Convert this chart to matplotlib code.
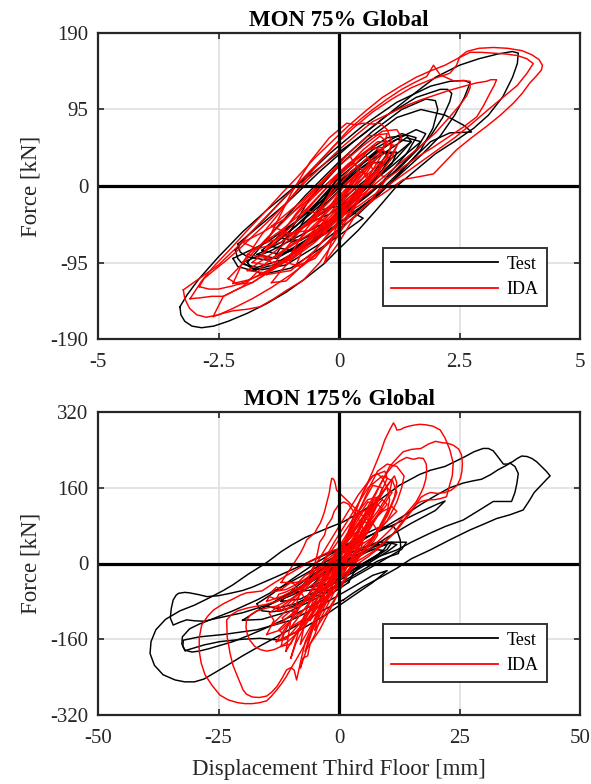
import matplotlib
matplotlib.use("Agg")
import matplotlib.pyplot as plt
from matplotlib.lines import Line2D

plt.rcParams['font.family'] = ['Liberation Serif', 'DejaVu Serif']

# ---------------- DATA: top panel (MON 75%), displacement [mm], force [kN]
top_title = "MON 75% Global"
top_xticks = [-5, -2.5, 0, 2.5, 5]
top_xticklabels = ["-5", "-2.5", "0", "2.5", "5"]
top_yticks = [-190, -95, 0, 95, 190]
top_yticklabels = ["-190", "-95", "0", "95", "190"]

top_test_1 = [(-3.3,-150),(-3.28,-160),(-3.2,-168),(-3.05,-174),(-2.85,-176),(-2.6,-174),(-2.3,-168),(-1.9,-158),
              (-1.5,-146),(-1.1,-132),(-0.7,-115),(-0.3,-96),(0.0,-78),(0.4,-55),(0.8,-28),(1.2,0),(1.6,20),(2.0,40),
              (2.44,57),(2.8,72),(3.1,88),(3.4,111),(3.6,135),(3.7,152),(3.72,165),(3.6,167),(3.3,164),(2.9,158),
              (2.5,150),(2.0,135),(1.5,112),(1.0,88),(0.5,64),(0.0,42),(-0.5,18),(-1.0,-5),(-1.5,-30),(-2.0,-57),
              (-2.5,-88),(-2.9,-115),(-3.15,-135),(-3.3,-150)]
top_test_2 = [(-2.15,-80),(-2.1,-90),(-2.0,-97),(-1.7,-101),(-1.2,-92),(-0.5,-68),(0.3,-35),(1.0,0),(1.7,38),(2.1,62),
              (2.4,88),(2.6,110),(2.72,128),(2.6,131),(2.3,130),(1.9,124),(1.2,104),(0.5,75),(-0.2,40),(-0.9,0),
              (-1.5,-38),(-1.9,-62),(-2.15,-80)]
top_test_3 = [(-2.1,-72),(-2.05,-82),(-1.9,-88),(-1.5,-92),(-0.9,-78),(-0.2,-48),(0.6,-12),(1.3,25),(1.9,62),
              (2.15,85),(2.3,105),(2.34,115),(2.25,120),(2.1,120),(1.6,110),(1.0,88),(0.3,55),(-0.4,18),(-1.1,-22),
              (-1.7,-52),(-2.1,-72)]
top_test_4 = [(-1.9,-95),(-1.8,-102),(-1.6,-104),(-1.1,-98),(-0.4,-72),(0.4,-35),(1.1,5),(1.7,45),(1.95,72),(2.05,95),
              (2.0,106),(1.8,108),(1.3,95),(0.7,68),(0.0,30),(-0.7,-12),(-1.3,-52),(-1.9,-95)]
top_test_5 = [(-1.3,-85),(-0.8,-78),(-0.1,-50),(0.7,-15),(1.3,20),(1.9,55),(2.3,66),(2.75,67),(2.6,75),(2.2,88),
              (1.7,95),(1.2,85),(0.6,58),(0.0,25),(-0.6,-15),(-1.3,-85)]
top_test_6 = [(-1.0,-70),(-0.5,-60),(0.2,-30),(0.9,5),(1.4,40),(1.6,60),(1.3,65),(0.7,45),(0.0,10),(-0.6,-30),(-1.0,-70)]
top_test_7 = [(-0.6,-45),(-0.2,-35),(0.4,-10),(0.9,20),(1.1,40),(0.8,42),(0.3,20),(-0.2,-5),(-0.6,-45)]
top_test_8 = [(-1.6,-80),(-1.2,-85),(-0.6,-65),(0.1,-30),(0.7,5),(1.2,35),(1.5,55),(1.2,58),(0.6,35),(-0.1,0),
              (-0.8,-40),(-1.6,-80)]
top_test_9 = [(-2.0,-95),(-1.6,-110),(-1.0,-102),(-0.2,-70),(0.5,-40),(0.2,-30),(-0.6,-55),(-1.4,-80),(-2.0,-95)]
top_test_10 = [(-1.4,-75),(-1.0,-80),(-0.4,-55),(0.2,-20),(0.7,15),(1.0,40),(0.8,45),(0.3,20),(-0.3,-15),
               (-0.9,-50),(-1.4,-75)]
top_test_11 = [(-1.7,-85),(-1.3,-90),(-0.7,-70),(0.0,-35),(0.6,0),(1.3,35),(1.7,55),(1.4,60),(0.8,35),(0.1,0),
               (-0.6,-40),(-1.2,-70),(-1.7,-85)]
top_test_12 = [(-2.2,-90),(-2.1,-100),(-1.8,-105),(-1.3,-97),(-0.7,-75),(-0.1,-45),(0.5,-15),(1.1,15),(1.6,45),
               (1.8,65),(1.6,70),(1.1,55),(0.5,28),(-0.1,-5),(-0.8,-40),(-1.5,-70),(-2.2,-90)]
top_test_13 = [(-1.2,-65),(-0.8,-68),(-0.3,-48),(0.2,-22),(0.7,5),(1.1,28),(1.2,42),(0.9,42),(0.4,20),(-0.1,-8),
               (-0.6,-35),(-1.2,-65)]
top_test_14 = [(-0.4,-30),(0.0,-25),(0.4,-5),(0.8,18),(0.9,30),(0.6,28),(0.2,10),(-0.2,-12),(-0.4,-30)]
top_test_15 = [(-0.5,-40),(0.0,-20),(0.6,10),(1.1,35),(1.5,55),(1.4,63),(1.0,60),(0.5,40),(0.0,15),(-0.5,-40)]

top_ida_1 = [(-3.23,-129),(-3.2,-140),(-3.1,-152),(-2.95,-160),(-2.75,-163),(-2.5,-160),(-2.2,-152),(-1.8,-140),
             (-1.4,-126),(-1.0,-110),(-0.6,-92),(-0.2,-70),(0.2,-44),(0.6,-22),(1.0,-6),(1.33,8),(1.7,12),(1.96,15),
             (2.2,30),(2.44,45),(2.75,60),(3.06,74),(3.35,88),(3.62,103),(3.8,115),(3.96,128),(4.1,137),(4.2,144),
             (4.22,150),(4.15,157),(4.0,163),(3.8,168),(3.5,171),(3.2,172),(2.9,171),(2.65,167),(2.5,160),
             (2.44,150),(2.3,140),(1.9,132),(1.5,122),(1.1,108),(0.7,92),(0.3,72),(-0.1,50),(-0.5,25),(-0.9,0),
             (-1.3,-25),(-1.7,-50),(-2.1,-75),(-2.5,-98),(-2.9,-115),(-3.23,-129)]
top_ida_2 = [(-3.09,-140),(-2.9,-139),(-2.64,-137),(-2.4,-137),(-2.1,-128),(-1.8,-120),(-1.4,-105),(-1.0,-90),
             (-0.6,-72),(-0.3,-55),(0.0,-40),(0.4,-25),(0.7,-12),(1.0,0),(1.35,15),(1.7,30),(2.05,45),(2.4,60),
             (2.75,77),(3.1,95),(3.4,110),(3.7,125),(3.9,140),(4.03,152),(3.9,158),(3.7,162),(3.45,164),(3.2,165),
             (2.95,166),(2.72,166),(2.45,158),(2.2,150),(1.9,143),(1.6,135),(1.25,123),(0.9,110),(0.55,93),(0.2,75),
             (-0.15,55),(-0.5,35),(-0.85,12),(-1.2,-10),(-1.55,-33),(-1.9,-55),(-2.25,-78),(-2.6,-100),(-2.85,-118),
             (-3.09,-140)]
top_ida_3 = [(-2.2,-121),(-1.9,-117),(-1.6,-110),(-1.25,-96),(-0.9,-80),(-0.55,-62),(-0.2,-45),(0.15,-28),(0.5,-10),
             (0.8,5),(1.1,20),(1.4,35),(1.7,50),(2.0,66),(2.3,86),(2.5,100),(2.65,112),(2.72,122),(2.72,130),
             (2.55,131),(2.4,130),(2.1,138),(1.96,150),(1.82,136),(1.55,128),(1.3,120),(1.0,108),(0.7,95),(0.45,83),
             (0.2,70),(-0.1,50),(-0.4,30),(-0.7,8),(-1.0,-15),(-1.3,-38),(-1.6,-60),(-1.8,-78),(-2.0,-95),(-2.2,-121)]
top_ida_4 = [(-2.9,-125),(-2.7,-128),(-2.5,-128),(-2.2,-124),(-1.9,-118),(-1.55,-107),(-1.2,-95),(-0.85,-79),
             (-0.5,-62),(-0.15,-45),(0.2,-28),(0.55,-11),(0.9,5),(1.25,20),(1.6,35),(1.95,48),(2.3,62),(2.6,74),
             (2.86,86),(3.0,100),(3.13,115),(3.22,125),(3.27,132),(3.15,132),(3.06,130),(2.85,128),(2.6,124),
             (2.3,119),(2.0,113),(1.7,107),(1.4,100),(1.05,90),(0.7,80),(0.35,63),(0.0,45),(-0.35,25),(-0.7,5),
             (-1.05,-18),(-1.4,-40),(-1.75,-60),(-2.1,-80),(-2.35,-93),(-2.6,-105),(-2.8,-115),(-2.9,-125)]
top_ida_5 = [(-1.5,-70),(-1.2,-64),(-1.0,-60),(-0.7,-48),(-0.4,-35),(-0.1,-20),(0.2,-5),(0.5,10),(0.8,25),(1.0,38),
             (1.1,50),(1.05,62),(1.0,70),(0.85,78),(0.7,77),(0.5,78),(0.35,76),(0.16,78),(0.0,70),(-0.2,60),(-0.4,45),
             (-0.6,30),(-0.8,10),(-1.0,-10),(-1.25,-40),(-1.5,-70)]
top_ida_6 = [(-2.61,-162),(-2.4,-158),(-2.2,-155),(-1.9,-153),(-1.64,-150),(-1.35,-140),(-1.1,-130),(-0.74,-117),
             (-0.4,-95),(-0.12,-71),(0.1,-50),(0.0,-40),(-0.25,-47),(-0.5,-55),(-1.0,-75),(-1.5,-95),(-2.0,-125),
             (-2.4,-137),(-2.61,-162)]
top_ida_7 = [(-1.8,-95),(-1.3,-100),(-0.7,-75),(0.0,-35),(0.6,5),(1.0,35),(1.1,55),(0.8,55),(0.3,30),(-0.3,-5),
             (-0.9,-45),(-1.5,-80),(-1.8,-95)]
top_ida_8 = [(-1.5,-110),(-1.0,-105),(-0.5,-80),(0.0,-45),(0.4,-10),(0.7,20),(0.6,35),(0.2,15),(-0.3,-20),
             (-0.8,-55),(-1.2,-85),(-1.5,-110)]
top_ida_9 = [(-1.2,-60),(-0.6,-55),(0.0,-25),(0.5,10),(0.9,45),(1.0,65),(0.6,62),(0.1,35),(-0.4,0),(-0.9,-35),(-1.2,-60)]
top_ida_10 = [(-0.9,-100),(-0.5,-90),(-0.1,-60),(0.3,-25),(0.6,5),(0.5,20),(0.1,0),(-0.3,-35),(-0.7,-70),(-0.9,-100)]
top_ida_11 = [(-1.9,-85),(-1.4,-90),(-0.8,-65),(-0.2,-30),(0.3,0),(0.7,30),(0.5,40),(0.0,15),(-0.6,-25),(-1.2,-55),
              (-1.9,-85)]
top_ida_12 = [(-0.5,-40),(-0.2,-45),(0.2,-20),(0.6,10),(0.9,40),(0.7,50),(0.3,25),(-0.1,0),(-0.5,-40)]
top_ida_13 = [(-1.4,-50),(-1.0,-60),(-0.4,-40),(0.1,-10),(0.4,20),(0.2,40),(-0.2,15),(-0.7,-15),(-1.4,-50)]
top_ida_14 = [(-0.3,-95),(0.0,-70),(0.3,-40),(0.7,-15),(1.0,10),(0.8,15),(0.4,-10),(0.0,-40),(-0.3,-95)]
top_ida_15 = [(-2.3,-115),(-2.1,-122),(-1.8,-120),(-1.3,-100),(-0.8,-75),(-0.3,-45),(0.2,-15),(0.7,15),(1.1,40),
              (1.3,60),(1.2,70),(0.9,68),(0.5,50),(0.0,25),(-0.5,-5),(-1.0,-35),(-1.5,-65),(-1.9,-90),(-2.3,-115)]
top_ida_16 = [(-1.6,-85),(-1.4,-95),(-1.0,-92),(-0.5,-70),(0.0,-40),(0.4,-12),(0.8,15),(1.0,35),(0.9,48),(0.6,45),
              (0.2,28),(-0.3,0),(-0.8,-30),(-1.2,-58),(-1.6,-85)]
top_ida_17 = [(-1.1,-95),(-0.8,-100),(-0.4,-80),(0.0,-55),(0.3,-30),(0.5,-5),(0.6,15),(0.4,18),(0.1,0),(-0.3,-25),
              (-0.7,-55),(-1.1,-95)]
top_ida_18 = [(-0.7,-30),(-0.4,-35),(0.0,-15),(0.4,10),(0.8,35),(1.0,55),(0.85,62),(0.5,45),(0.1,20),(-0.3,-5),(-0.7,-30)]
top_ida_19 = [(-2.0,-70),(-1.7,-78),(-1.2,-70),(-0.7,-50),(-0.2,-25),(0.2,0),(0.5,20),(0.3,28),(-0.1,10),(-0.6,-15),
              (-1.1,-40),(-1.6,-58),(-2.0,-70)]
top_ida_20 = [(-1.4,-120),(-1.1,-118),(-0.7,-95),(-0.3,-65),(0.1,-35),(0.4,-10),(0.3,0),(0.0,-20),(-0.4,-50),
              (-0.8,-80),(-1.2,-105),(-1.4,-120)]
top_ida_21 = [(-0.3,-60),(0.0,-50),(0.4,-20),(0.8,10),(1.1,35),(1.2,50),(1.0,52),(0.7,35),(0.3,5),(0.0,-25),(-0.3,-60)]
top_ida_22 = [(-1.9,-105),(-1.5,-108),(-1.0,-88),(-0.5,-60),(0.0,-30),(0.5,0),(0.9,25),(0.7,30),(0.2,5),(-0.3,-25),
              (-0.8,-55),(-1.3,-80),(-1.9,-105)]

# ---------------- DATA: bottom panel (MON 175%)
bot_title = "MON 175% Global"
bot_xticks = [-50, -25, 0, 25, 50]
bot_xticklabels = ["-50", "-25", "0", "25", "50"]
bot_yticks = [-320, -160, 0, 160, 320]
bot_yticklabels = ["-320", "-160", "0", "160", "320"]

bot_test_1 = [(0.9,-77),(-3,-97),(-7,-120),(-12,-150),(-16,-172),(-20,-195),(-23,-214),(-26,-232),(-28,-244),
              (-30,-250),(-32,-250),(-34,-246),(-36.5,-235),(-38.3,-215),(-39.2,-190),(-39,-165),(-38,-140),
              (-36,-118),(-33,-100),(-30,-88),(-26.8,-72),(-24,-57),(-22,-45),(-18.9,-23),(-15,2),(-12,25),(-10,38),
              (-7,55),(-3,72),(0.9,88),(5,112),(8.8,137),(12.5,165),(16.7,188),(19,197),(22,205),(24,215),(26,225),
              (28,236),(29.9,243),(31,243),(32,238),(33,225),(34.1,210),(35,210),(36,215),(37,222),(37.9,227),(39,226),
              (40,222),(41,215),(42,205),(43,195),(43.8,185),(43.1,178),(42,166),(40.5,150),(39.5,133),(38.2,113),
              (35.5,103),(32.7,95),(30,83),(27.2,71),(23,50),(18.9,28.5),(15,10),(12,-10),(8.5,-30),(5,-49),(3,-62),
              (0.9,-77)]
bot_test_2 = [(2,-40),(-1,-60),(-4,-80),(-7,-96),(-10,-112),(-13,-126),(-16,-140),(-19,-153),(-22,-165),(-25,-174),
              (-27,-180),(-29,-185),(-30.5,-187),(-32,-183),(-32.6,-170),(-32.5,-155),(-31,-138),(-29,-128),
              (-27,-120),(-22,-100),(-17,-77),(-12,-50),(-7,-22),(-2,8),(3,38),(8,68),(13,98),(17,125),(20.3,145),
              (23,160),(25.8,170),(28,175),(29.6,178),(31.5,188),(33,198),(34.5,206),(35.5,212),(36.5,205),
              (37.2,190),(36.9,169),(36.5,150),(35.8,131),(34,131),(32,131),(29,112),(25.8,92),(22,78),(18.9,64),
              (15,45),(12,28.5),(8,14),(5,0.4),(3,-20),(2,-40)]
bot_test_3 = [(0,-20),(-5,-45),(-10,-68),(-15,-88),(-20,-104),(-25,-115),(-28,-122),(-30,-121),(-31.6,-119),
              (-33,-124),(-34.4,-130),(-35,-115),(-34.8,-95),(-34.4,-77),(-33.8,-67),(-33.3,-63),(-32,-61),(-31,-62),
              (-29,-66),(-27.4,-70),(-25,-68),(-22.6,-63),(-20,-57),(-18,-50),(-13,-28),(-8,-5),(-3,18),(2,40),
              (7,62),(12,85),(16,105),(20.3,125),(22,132),(20,112),(15,85),(10,55),(5,22),(0,-20)]
bot_test_4 = [(-17,-85),(-16.5,-95),(-16,-100),(-14,-102),(-12,-100),(-7,-80),(-2,-55),(3,-25),(8,5),(10.5,15),
              (12.3,21),(12.8,35),(12.7,50),(12.2,65),(11.3,78),(10,78),(8,75),(4,55),(0,30),(-5,0),(-10,-35),
              (-14,-65),(-17,-85)]
bot_test_5 = [(-12,-80),(-8,-75),(-3,-50),(2,-20),(7,10),(10,30),(11,45),(8,45),(4,30),(0,10),(-5,-20),(-9,-50),(-12,-80)]
bot_test_6 = [(-9,-60),(-5,-55),(0,-30),(5,0),(9,25),(10,40),(7,40),(3,20),(-2,-5),(-6,-30),(-9,-60)]
bot_test_7 = [(-20,-120),(-16,-118),(-10,-100),(-4,-70),(2,-35),(8,0),(13,30),(14,45),(11,45),(6,25),(0,-5),(-6,-40),
              (-12,-75),(-17,-100),(-20,-120)]
bot_test_8 = [(-31.9,-184),(-28,-172),(-24.7,-165),(-20,-160),(-16.4,-158),(-12.2,-162),(-8,-140),(-3,-110),
              (2,-75),(7,-40),(10,-15),(7,-25),(2,-55),(-4,-90),(-10,-120),(-17,-140),(-24,-150),(-29,-155),
              (-32.3,-162),(-32.4,-175),(-31.9,-184)]
bot_test_9 = [(-15,-90),(-13,-95),(-9,-85),(-4,-60),(1,-30),(6,0),(10,25),(12,40),(10,45),(6,30),(1,5),(-4,-25),
              (-9,-55),(-13,-78),(-15,-90)]
bot_test_10 = [(-6,-50),(-3,-45),(1,-25),(5,0),(8,18),(9,28),(7,30),(3,15),(-1,-10),(-4,-30),(-6,-50)]

bot_ida_1 = [(3,40),(1.5,5),(0,-30),(-1.5,-60),(-3,-90),(-4.5,-120),(-6,-150),(-7.5,-178),(-9,-205),(-10,-222),
             (-11,-240),(-12,-255),(-13,-268),(-14,-280),(-15,-290),(-16.5,-294),(-18,-296),(-19.5,-296),(-21,-294),
             (-23,-288),(-24.7,-278),(-26.3,-258),(-27.8,-235),(-28.6,-210),(-29,-185),(-29,-158),(-28.5,-130),
             (-27.3,-112),(-26,-98),(-24,-85),(-22,-75),(-20.5,-67),(-19.2,-62),(-17.5,-60),(-16,-58),(-14.8,-50),
             (-13.6,-42),(-12,-32),(-10,-20),(-8,-8),(-6,5),(-4,15),(-2,25),(0.5,33),(3,40)]
bot_ida_2 = [(2,20),(0,-20),(-2,-60),(-3.5,-90),(-5,-120),(-6,-142),(-7,-165),(-7.8,-200),(-8.8,-246),(-9.3,-225),
             (-10,-220),(-10.9,-225),(-11.8,-242),(-12.9,-260),(-14,-272),(-15,-280),(-16.5,-283),(-18,-282),
             (-19.2,-276),(-19.9,-267),(-21,-240),(-22,-215),(-22.6,-190),(-23.2,-155),(-23.3,-119),(-22.3,-108),
             (-21,-100),(-19,-94),(-17,-90),(-15,-86),(-13,-80),(-11,-70),(-9,-60),(-7,-45),(-5,-30),(-3,-15),
             (-1,0),(0.5,10),(2,20)]
bot_ida_3 = [(0,-10),(-1.5,-35),(-3,-60),(-4.5,-85),(-6,-110),(-7.5,-130),(-9,-150),(-10.5,-164),(-12,-175),
             (-13.5,-182),(-15,-185),(-16.3,-182),(-17.5,-175),(-18.5,-162),(-19,-150),(-19.3,-135),(-19.2,-120),
             (-18.3,-108),(-17,-100),(-15,-94),(-13,-90),(-10,-75),(-7,-55),(-4,-35),(0,-10)]
bot_ida_4 = [(-1,-20),(0,10),(1,40),(2,70),(3,100),(4,125),(5,150),(6,172),(7,195),(8,220),(8.8,240),(9.5,261),
             (10.5,282),(11.3,297),(11.7,290),(12,282),(12.8,283),(13.5,287),(14.5,290),(15.4,292),(16.7,294),
             (18,293),(19.5,290),(21,282),(22,265),(23,240),(23.7,212),(23.5,185),(22.8,160),(22.3,141),(21,137),
             (20,135),(18.2,134),(17,131),(16,125),(15,112),(14,100),(12.5,80),(11,60),(9,42),(7,25),(5,12),(3,0),
             (1,-10),(-1,-20)]
bot_ida_5 = [(0,-30),(1.5,5),(3,40),(4.5,75),(6,110),(7.2,138),(8.5,165),(9.5,185),(10.5,205),(12,222),(13.3,236),
             (15,241),(17,243),(18.5,252),(20,258),(21.5,255),(22.5,254),(23.7,250),(24.8,242),(25.4,230),(25.6,212),
             (25.5,195),(25.2,180),(24.5,165),(23.3,155),(22,150),(20.5,148),(19,150),(18,146),(17,140),(16,125),
             (15,110),(13.5,90),(12,70),(10,50),(8,30),(6,14),(4,0),(2,-15),(0,-30)]
bot_ida_6 = [(0,-10),(1.5,20),(3,50),(4.5,85),(6,120),(7.5,148),(9,175),(10,192),(11,205),(12.5,216),(14,224),
             (15.5,220),(16.5,223),(17.5,222),(18.1,210),(18.2,195),(18,178),(17.5,160),(16.8,145),(16,130),(14.5,112),
             (13,95),(11,75),(9,55),(7,37),(5,20),(2.5,5),(0,-10)]
bot_ida_7 = [(-12,-40),(-11,-25),(-10,-10),(-9,6),(-8,22),(-7.3,36),(-6.7,50),(-5.8,58),(-5,65),(-4.5,75),(-3.9,85),
             (-3.4,98),(-3,110),(-2.5,130),(-2,150),(-1.8,165),(-1.5,180),(-1.1,178),(-0.8,170),(-0.6,160),(-0.5,155),
             (0.2,148),(1,140),(2,130),(3,120),(4,110),(5,100),(6,92),(7,85),(7.8,72),(8,60),(7.2,47),(6,35),(4.5,22),
             (3,10),(1,-3),(-1,-15),(-3,-23),(-5,-30),(-7,-36),(-9,-40),(-12,-40)]
bot_ida_8 = [(-12,-160),(-10,-120),(-6,-60),(-2,0),(2,60),(6,110),(9,150),(11,178),(12,150),(10,100),(7,50),(3,0),
             (-1,-50),(-5,-100),(-9,-145),(-12,-160)]
bot_ida_9 = [(-13,-100),(-9,-92),(-6,-70),(-2,-30),(2,20),(5,70),(8,110),(10.5,150),(11,175),(9,185),(6,160),
             (3,110),(-1,45),(-4,-10),(-8,-60),(-13,-100)]
bot_ida_10 = [(-7,-185),(-4,-140),(-1,-80),(2,-15),(5,55),(7.5,120),(9,160),(7,165),(4,110),(1,40),(-2,-40),
              (-5,-115),(-7,-185)]
bot_ida_11 = [(-10,-135),(-7,-115),(-4,-75),(0,-20),(3,30),(6,80),(8,125),(6,130),(3,85),(0,35),(-3,-25),(-6,-80),
              (-10,-135)]
bot_ida_12 = [(-13,-165),(-11,-160),(-8,-125),(-5,-80),(-1,-25),(3,35),(6,90),(7,120),(5,110),(2,60),(-2,0),
              (-6,-60),(-10,-120),(-13,-165)]
bot_ida_13 = [(0,20),(3,80),(5,130),(6.5,165),(8,195),(10,210),(12,205),(13.5,185),(13,160),(12,130),(10,90),(7,55),
              (3,30),(0,20)]
bot_ida_14 = [(-15,-150),(-13.5,-120),(-14.5,-105),(-12.5,-90),(-12,-100),(-10,-80),(-8,-60),(-7,-75),(-5,-50),
              (-3,-30),(-4,-55),(-7,-95),(-10,-120),(-12,-140),(-15,-150)]
bot_ida_15 = [(-11,-185),(-9,-150),(-6,-100),(-3,-50),(0,0),(3,50),(6,100),(8.5,145),(10,180),(9.5,195),(7,185),
              (4,145),(1,95),(-2,45),(-5,-5),(-8,-60),(-10,-120),(-11,-185)]
bot_ida_16 = [(-8,-170),(-6,-135),(-3,-85),(0,-35),(3,15),(6,70),(9,120),(11,150),(10,160),(7,130),(4,85),(1,35),
              (-2,-15),(-5,-70),(-7,-120),(-8,-170)]
bot_ida_17 = [(-6,-120),(-4,-95),(-1,-50),(2,0),(5,50),(8,100),(10,125),(9,135),(6,100),(3,55),(0,10),(-3,-40),
              (-5,-85),(-6,-120)]
bot_ida_18 = [(-14,-130),(-12,-125),(-9,-100),(-6,-70),(-3,-35),(0,0),(3,35),(5,60),(4,70),(1,40),(-2,5),(-5,-30),
              (-8,-65),(-11,-100),(-14,-130)]
bot_ida_19 = [(-4,-60),(-2,-40),(1,0),(4,45),(7,90),(9,115),(8,125),(5,95),(2,50),(-1,5),(-3,-30),(-4,-60)]
bot_ida_20 = [(-10,-200),(-9,-170),(-7,-130),(-4,-80),(-1,-30),(2,20),(4,60),(3,65),(0,25),(-3,-25),(-6,-80),
              (-8,-130),(-10,-200)]
bot_ida_21 = [(-12,-175),(-11.5,-150),(-12.5,-140),(-11,-125),(-11.8,-115),(-10,-100),(-9,-105),(-8,-85),(-6,-70),
              (-6.5,-90),(-5,-100),(-7,-130),(-9,-150),(-10,-170),(-12,-175)]
bot_ida_22 = [(2,-5),(4,40),(6,85),(8,130),(10,165),(11.5,185),(12,170),(11.5,140),(10,105),(8,70),(6,40),(4,15),(2,-5)]
bot_ida_23 = [(-5,-140),(-3,-110),(0,-60),(2,-20),(4,20),(5,45),(4,50),(2,20),(0,-15),(-2,-55),(-4,-100),(-5,-140)]
bot_ida_24 = [(-14,-60),(-13,-50),(-12,-55),(-10,-40),(-9,-45),(-7,-25),(-5,-15),(-3,5),(-1,20),(1,45),(3,70),(5,95),
              (7,120),(8,140),(6,135),(4,110),(2,80),(0,50),(-2,20),(-4,-5),(-6,-25),(-8,-40),(-11,-55),(-14,-60)]
bot_ida_25 = [(-15,-80),(-14.5,-70),(-13,-75),(-12.5,-65),(-11,-60),(-9,-50),(-8,-55),(-6,-40),(-4,-25),(-3,-30),
              (-1,-10),(1,10),(3,35),(4,55),(3,50),(1,30),(-1,10),(-3,-10),(-6,-35),(-9,-55),(-12,-70),(-15,-80)]
bot_ida_26 = [(-8,-220),(-7.5,-200),(-6.5,-195),(-6,-170),(-5,-150),(-4,-120),(-2.5,-90),(-1,-60),(0.5,-30),(2,0),
              (3.5,30),(5,60),(6,85),(5,90),(3.5,60),(2,30),(0,0),(-2,-40),(-4,-90),(-5.5,-140),(-7,-190),(-8,-220)]
bot_ida_27 = [(0,0),(1,30),(2,60),(3,95),(4,125),(5,150),(6,170),(7,185),(8,190),(9,180),(10,160),(10.5,135),
              (10,110),(9,90),(8,70),(6.5,50),(5,35),(3,20),(1,8),(0,0)]
bot_ida_28 = [(-6,-20),(-5,0),(-4.5,20),(-4,45),(-3,60),(-2.5,80),(-1.5,95),(-1,110),(0,125),(1,130),(2,125),(3,110),
              (4,95),(5,75),(4,55),(2,35),(0,15),(-2,0),(-4,-10),(-6,-20)]
bot_ida_29 = [(-3,-80),(-1,-60),(1,-35),(3,-5),(5,25),(7,55),(9,80),(11,100),(12,110),(11,120),(9,110),(7,90),
              (5,65),(3,40),(1,10),(-1,-20),(-3,-50),(-3,-80)]

x_label = "Displacement Third Floor [mm]"
y_label = "Force [kN]"
legend_labels = ["Test", "IDA"]

top_test = [top_test_1, top_test_2, top_test_3, top_test_4, top_test_5, top_test_6, top_test_7, top_test_8,
            top_test_9, top_test_10, top_test_11, top_test_12, top_test_13, top_test_14, top_test_15]
top_ida = [top_ida_1, top_ida_2, top_ida_3, top_ida_4, top_ida_5, top_ida_6, top_ida_7, top_ida_8, top_ida_9,
           top_ida_10, top_ida_11, top_ida_12, top_ida_13, top_ida_14, top_ida_15, top_ida_16, top_ida_17,
           top_ida_18, top_ida_19, top_ida_20, top_ida_21, top_ida_22]
bot_test = [bot_test_1, bot_test_2, bot_test_3, bot_test_4, bot_test_5, bot_test_6, bot_test_7, bot_test_8,
            bot_test_9, bot_test_10]
bot_ida = [bot_ida_1, bot_ida_2, bot_ida_3, bot_ida_4, bot_ida_5, bot_ida_6, bot_ida_7, bot_ida_8, bot_ida_9,
           bot_ida_10, bot_ida_11, bot_ida_12, bot_ida_13, bot_ida_14, bot_ida_15, bot_ida_16, bot_ida_17,
           bot_ida_18, bot_ida_19, bot_ida_20, bot_ida_21, bot_ida_22, bot_ida_23, bot_ida_24, bot_ida_25,
           bot_ida_26, bot_ida_27, bot_ida_28, bot_ida_29]

# ---------------- FIGURE
W, H = 591, 784
fig = plt.figure(figsize=(W / 100, H / 100), dpi=100)

def px_axes(left, top, right, bottom):
    return fig.add_axes([left / W, 1 - bottom / H, (right - left) / W, (bottom - top) / H])

ax1 = px_axes(98, 33, 580, 339)
ax2 = px_axes(98, 412, 580, 715)

def style(ax, xlim, ylim, xt, xtl, yt, ytl, title, xlabel=None):
    ax.set_xlim(*xlim)
    ax.set_ylim(*ylim)
    ax.set_xticks(xt)
    ax.set_xticklabels(xtl)
    ax.set_yticks(yt)
    ax.set_yticklabels(ytl)
    ax.grid(True, color='#dcdcdc', linewidth=1.1, zorder=0)
    ax.set_axisbelow(True)
    ax.tick_params(direction='in', length=4, width=1.2, top=True, right=True, labelsize=15,
                   colors='#262626')
    ax.tick_params(axis='x', pad=10)
    ax.tick_params(axis='y', pad=7)
    for sp in ax.spines.values():
        sp.set_linewidth(1.6)
        sp.set_color('#262626')
        sp.set_zorder(6)
    ax.axhline(0, color='black', linewidth=2.3, zorder=4)
    ax.axvline(0, color='black', linewidth=2.3, zorder=4)
    ax.set_title(title, fontsize=16.5, fontweight='bold', pad=5)
    ax.set_ylabel(y_label, fontsize=16.5, color='#262626', labelpad=6)
    if xlabel:
        ax.set_xlabel(xlabel, fontsize=16.5, color='#262626', labelpad=8)

def draw(ax, loops, color, z):
    for loop in loops:
        xs = [p[0] for p in loop]
        ys = [p[1] for p in loop]
        ax.plot(xs, ys, color=color, linewidth=1.05, zorder=z, solid_joinstyle='round')

def legend(ax):
    handles = [Line2D([], [], color='black', linewidth=1.3), Line2D([], [], color='red', linewidth=1.3)]
    pos = ax.get_position()
    axw = pos.width * W
    axh = pos.height * H
    leg = ax.legend(handles, legend_labels, loc='lower right',
                    bbox_to_anchor=(1 - 33 / axw, 33 / axh), fontsize=13,
                    handlelength=5.9, handletextpad=0.5, labelspacing=0.45,
                    borderpad=0.45, borderaxespad=0, fancybox=False, framealpha=1,
                    edgecolor='#333333')
    leg.get_frame().set_linewidth(1.4)
    leg.set_zorder(10)

style(ax1, (-5, 5), (-190, 190), top_xticks, top_xticklabels, top_yticks, top_yticklabels, top_title)
draw(ax1, top_test, 'black', 2)
draw(ax1, top_ida, 'red', 3)
legend(ax1)

style(ax2, (-50, 50), (-320, 320), bot_xticks, bot_xticklabels, bot_yticks, bot_yticklabels, bot_title, x_label)
draw(ax2, bot_test, 'black', 2)
draw(ax2, bot_ida, 'red', 3)
legend(ax2)

fig.savefig("out.png", dpi=100)
